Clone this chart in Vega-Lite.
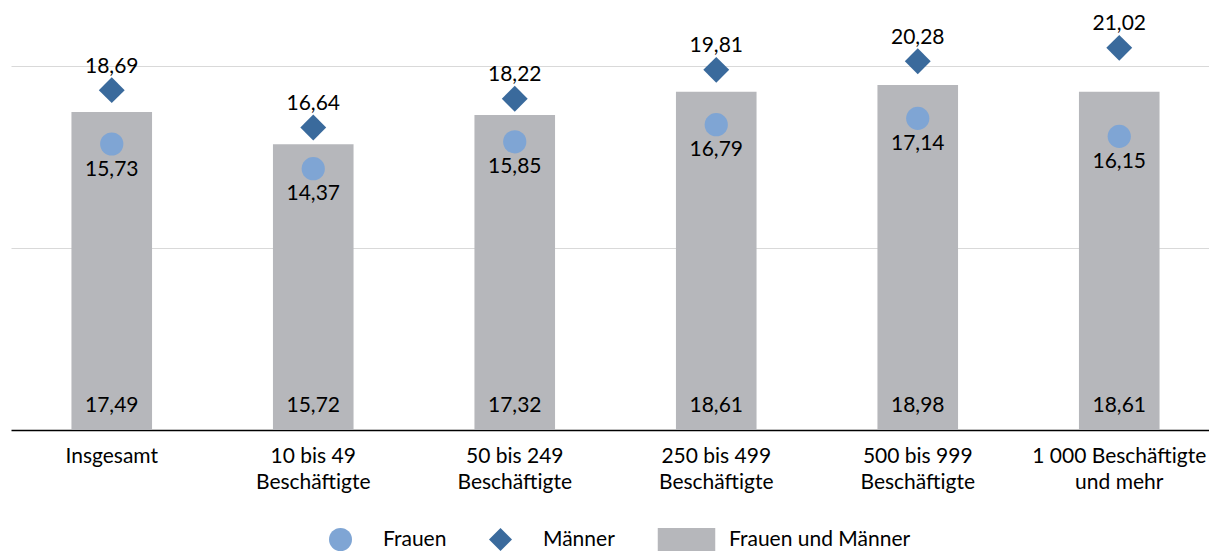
{
  "$schema": "https://vega.github.io/schema/vega-lite/v6.json",
  "autosize": {"type": "none"},
  "width": 1198,
  "height": 430,
  "padding": {"left": 11, "top": 0, "right": 0, "bottom": 121},
  "background": "white",
  "config": {
    "view": {"stroke": null},
    "font": "Lato",
    "locale": {"number": {"decimal": ",", "thousands": " ", "grouping": [3], "currency": ["", " €"]}}
  },
  "data": {
    "values": [
      {"kat": "Insgesamt", "serie": "Frauen und Männer", "wert": 17.49},
      {"kat": "Insgesamt", "serie": "Frauen", "wert": 15.73},
      {"kat": "Insgesamt", "serie": "Männer", "wert": 18.69},
      {"kat": "10 bis 49 Beschäftigte", "serie": "Frauen und Männer", "wert": 15.72},
      {"kat": "10 bis 49 Beschäftigte", "serie": "Frauen", "wert": 14.37},
      {"kat": "10 bis 49 Beschäftigte", "serie": "Männer", "wert": 16.64},
      {"kat": "50 bis 249 Beschäftigte", "serie": "Frauen und Männer", "wert": 17.32},
      {"kat": "50 bis 249 Beschäftigte", "serie": "Frauen", "wert": 15.85},
      {"kat": "50 bis 249 Beschäftigte", "serie": "Männer", "wert": 18.22},
      {"kat": "250 bis 499 Beschäftigte", "serie": "Frauen und Männer", "wert": 18.61},
      {"kat": "250 bis 499 Beschäftigte", "serie": "Frauen", "wert": 16.79},
      {"kat": "250 bis 499 Beschäftigte", "serie": "Männer", "wert": 19.81},
      {"kat": "500 bis 999 Beschäftigte", "serie": "Frauen und Männer", "wert": 18.98},
      {"kat": "500 bis 999 Beschäftigte", "serie": "Frauen", "wert": 17.14},
      {"kat": "500 bis 999 Beschäftigte", "serie": "Männer", "wert": 20.28},
      {"kat": "1 000 Beschäftigte und mehr", "serie": "Frauen und Männer", "wert": 18.61},
      {"kat": "1 000 Beschäftigte und mehr", "serie": "Frauen", "wert": 16.15},
      {"kat": "1 000 Beschäftigte und mehr", "serie": "Männer", "wert": 21.02}
    ]
  },
  "encoding": {
    "x": {
      "field": "kat",
      "type": "nominal",
      "sort": null,
      "scale": {"range": [0, 1209], "paddingInner": 0, "paddingOuter": 0},
      "axis": {
        "title": null,
        "labelAngle": 0,
        "ticks": false,
        "domainColor": "#000000",
        "domainWidth": 1.5,
        "labelFont": "Lato",
        "labelFontSize": 21,
        "labelColor": "#000000",
        "labelPadding": 15,
        "labelLineHeight": 26,
        "labelBaseline": "top",
        "labelLimit": 0,
        "labelExpr": "datum.label == '1 000 Beschäftigte und mehr' ? ['1 000 Beschäftigte', 'und mehr'] : split(replace(datum.label, ' Beschäftigte', '|Beschäftigte'), '|')"
      }
    }
  },
  "layer": [
    {
      "transform": [{"filter": "datum.serie == 'Frauen und Männer'"}],
      "mark": {"type": "bar", "width": {"band": 0.4}},
      "encoding": {
        "y": {
          "field": "wert",
          "type": "quantitative",
          "scale": {"domain": [0, 23.65], "nice": false, "zero": true},
          "axis": {"title": null, "labels": false, "ticks": false, "domain": false, "grid": true, "values": [10, 20], "gridColor": "#d9d9d9", "gridWidth": 1.2}
        },
        "color": {
          "field": "serie",
          "type": "nominal",
          "scale": {"domain": ["Frauen", "Männer", "Frauen und Männer"], "range": ["#7fa5d4", "#3a6a9c", "#b6b7bb"]},
          "legend": {
            "title": null,
            "orient": "none",
            "legendX": 318,
            "legendY": 528,
            "direction": "horizontal",
            "labelFont": "Lato",
            "labelFontSize": 21,
            "labelColor": "#000000",
            "labelLimit": 0,
            "symbolSize": 529,
            "labelOffset": 31,
            "columnPadding": 42,
            "padding": 0,
            "symbolStrokeWidth": 0,
            "symbolOpacity": 1
          }
        }
      }
    },
    {
      "transform": [{"filter": "datum.serie == 'Frauen'"}],
      "mark": {"type": "point", "filled": true, "opacity": 1, "size": 540},
      "encoding": {
        "y": {"field": "wert", "type": "quantitative"},
        "color": {"field": "serie", "type": "nominal"},
        "shape": {
          "field": "serie",
          "type": "nominal",
          "scale": {"domain": ["Frauen", "Männer", "Frauen und Männer"], "range": ["circle", "diamond", "M-2.5,-1H2.5V1H-2.5Z"]}
        }
      }
    },
    {
      "transform": [{"filter": "datum.serie == 'Männer'"}],
      "mark": {"type": "point", "filled": true, "opacity": 1, "size": 670},
      "encoding": {
        "y": {"field": "wert", "type": "quantitative"},
        "color": {"field": "serie", "type": "nominal"},
        "shape": {"field": "serie", "type": "nominal"}
      }
    },
    {
      "transform": [{"filter": "datum.serie == 'Frauen und Männer'"}],
      "mark": {"type": "text", "font": "Lato", "fontSize": 21, "color": "#000000", "baseline": "middle", "dy": -24.5},
      "encoding": {
        "y": {"datum": 0, "type": "quantitative"},
        "text": {"field": "wert", "type": "quantitative", "format": ".2f"}
      }
    },
    {
      "transform": [{"filter": "datum.serie == 'Frauen'"}],
      "mark": {"type": "text", "font": "Lato", "fontSize": 21, "color": "#000000", "baseline": "middle", "dy": 25.5},
      "encoding": {
        "y": {"field": "wert", "type": "quantitative"},
        "text": {"field": "wert", "type": "quantitative", "format": ".2f"}
      }
    },
    {
      "transform": [{"filter": "datum.serie == 'Männer'"}],
      "mark": {"type": "text", "font": "Lato", "fontSize": 21, "color": "#000000", "baseline": "middle", "dy": -23.5},
      "encoding": {
        "y": {"field": "wert", "type": "quantitative"},
        "text": {"field": "wert", "type": "quantitative", "format": ".2f"}
      }
    }
  ]
}
